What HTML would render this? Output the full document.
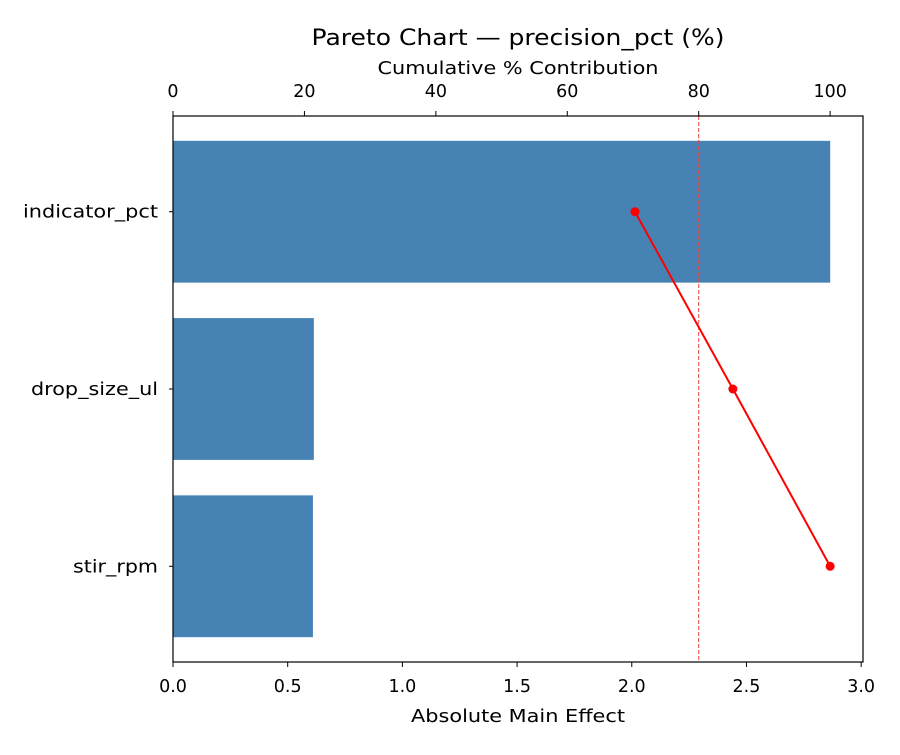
<!DOCTYPE html>
<html><head><meta charset="utf-8"><style>
body{margin:0;background:#fff;font-family:"Liberation Sans","DejaVu Sans",sans-serif}
svg text{font-family:"DejaVu Sans","Liberation Sans",sans-serif;fill:#000}
</style></head><body>
<svg id="chart" width="900" height="750" xmlns="http://www.w3.org/2000/svg"></svg>
<script>
const categories = ["indicator_pct","drop_size_ul","stir_rpm"];
const effects = [2.865, 0.614, 0.61];
const cumulative = [70.3, 85.2, 100];
const bottomTicks = [0,0.5,1.0,1.5,2.0,2.5,3.0];
const topTicks = [0,20,40,60,80,100];
const threshold = 80;
const labelWidths = {"indicator_pct":135,"drop_size_ul":127,"stir_rpm":85};

const L=173,R=863,T=116,B=662;
const effMax=3.008, cumMax=105;
const xE=v=>L+v/effMax*(R-L);
const xC=v=>L+v/cumMax*(R-L);
const yMin=-0.54, yMax=categories.length-1+0.54;
const unit=(B-T)/(yMax-yMin);
const yC=i=>T+(i-yMin)*unit;
const svg=document.getElementById('chart');
const NS="http://www.w3.org/2000/svg";
function mk(tag,attrs,parent){const e=document.createElementNS(NS,tag);for(const k in attrs)e.setAttribute(k,attrs[k]);(parent||svg).appendChild(e);return e;}

categories.forEach((c,i)=>{
  const b=mk('rect',{x:L,y:yC(i)-unit*0.4,width:xE(effects[i])-L,height:unit*0.8,fill:'#4682b4'});
  
  
  mk('line',{x1:L-4,x2:L,y1:yC(i),y2:yC(i),stroke:'#000'});
  const t=mk('text',{x:L-15,y:yC(i)+6,'text-anchor':'end','font-size':'18',textLength:labelWidths[c]||100,lengthAdjust:'spacingAndGlyphs'});
  t.textContent=c;
  
  
});

const th=mk('line',{x1:xC(threshold),x2:xC(threshold),y1:T,y2:B,stroke:'#f04040','stroke-width':1,'stroke-dasharray':'4,2'});



const pts=cumulative.map((v,i)=>xC(v)+','+yC(i)).join(' ');
const pl=mk('polyline',{points:pts,fill:'none',stroke:'red','stroke-width':2});


cumulative.forEach((v,i)=>{
  const c=mk('circle',{cx:xC(v),cy:yC(i),r:4.5,fill:'red'});
  
  
});

const frame=mk('rect',{x:L,y:T,width:R-L,height:B-T,fill:'none',stroke:'#000','stroke-width':1.2});



bottomTicks.forEach(v=>{
  mk('line',{x1:xE(v),x2:xE(v),y1:B,y2:B+5,stroke:'#000'});
  const t=mk('text',{x:xE(v),y:B+30,'text-anchor':'middle','font-size':'17.5'});
  t.textContent=v.toFixed(1);
  
  
});
topTicks.forEach(v=>{
  mk('line',{x1:xC(v),x2:xC(v),y1:T,y2:T-5,stroke:'#000'});
  const t=mk('text',{x:xC(v),y:T-19,'text-anchor':'middle','font-size':'17.5'});
  t.textContent=v;
  
  
});

const xt=mk('text',{x:518,y:722,'text-anchor':'middle','font-size':'18',textLength:214,lengthAdjust:'spacingAndGlyphs'});
xt.textContent='Absolute Main Effect';


const tt=mk('text',{x:518,y:74,'text-anchor':'middle','font-size':'18',textLength:281,lengthAdjust:'spacingAndGlyphs'});
tt.textContent='Cumulative % Contribution';


const ti=mk('text',{x:518,y:45,'text-anchor':'middle','font-size':'22',textLength:413,lengthAdjust:'spacingAndGlyphs'});
ti.textContent='Pareto Chart — precision_pct (%)';


</script>
</body></html>
